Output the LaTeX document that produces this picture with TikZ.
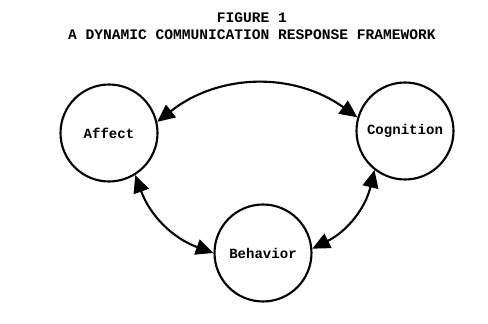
\documentclass[tikz,border=0pt]{standalone}
\usepackage{fontspec}
\setmonofont{Liberation Mono}
\usetikzlibrary{arrows.meta}
\begin{document}
\begin{tikzpicture}[x=0.02cm, y=0.02cm, >={Triangle[length=10pt,width=9pt]},
		stage/.style={draw, circle, line width=1.2pt, minimum size=1.94cm, inner sep=0pt, font=\ttfamily\bfseries\fontsize{8}{10}\selectfont},
		link/.style={<->, line width=1.2pt}]
		\useasboundingbox (0,0) rectangle (488,324);
		
		% Title
		\node[font=\ttfamily\bfseries\fontsize{8.3}{10}\selectfont] (fig) at (252,306) {FIGURE 1};
		\node[font=\ttfamily\bfseries\fontsize{8.3}{10}\selectfont] (title) at (252,289) {A DYNAMIC COMMUNICATION RESPONSE FRAMEWORK};
		
		% Circles
		\node[stage] (affect) at (109,191) {Affect};
		\node[stage] (cognition) at (405,193) {Cognition};
		\node[stage] (behavior) at (263,71) {Behavior};
		
		% Links
		\draw[link] (affect.13) to[bend left=37] (cognition.164);
		\draw[link] (affect.-58) to[bend right=25] (behavior.180);
		\draw[link] (behavior.5) to[bend right=25] (cognition.-128);
	\end{tikzpicture}
\end{document}
